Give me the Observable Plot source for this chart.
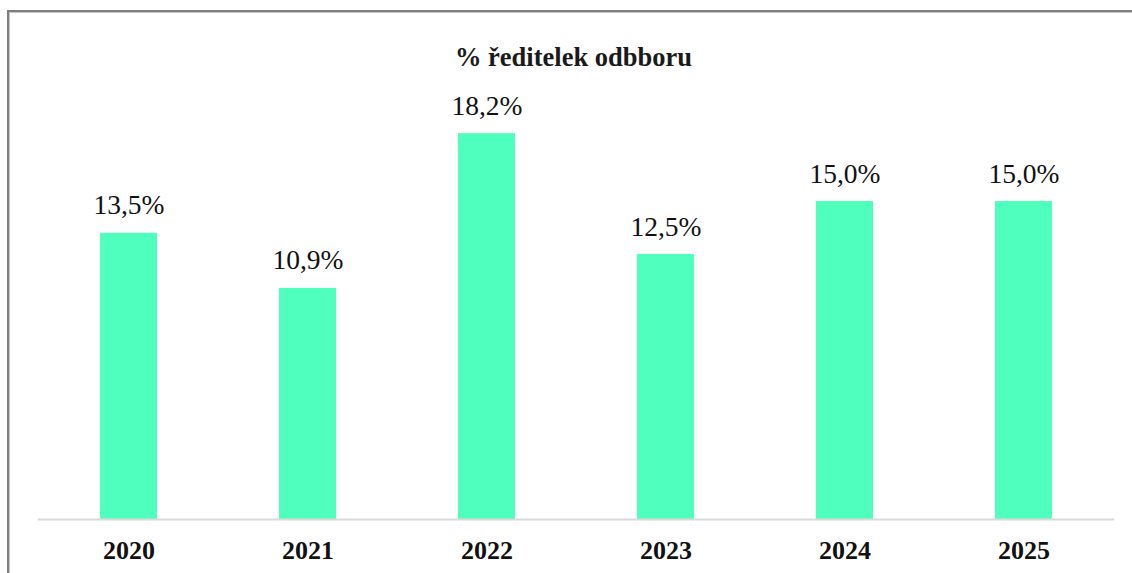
<!DOCTYPE html>
<html>
<head>
<meta charset="utf-8">
<script src="https://cdn.jsdelivr.net/npm/d3@7"></script>
<script src="https://cdn.jsdelivr.net/npm/@observablehq/plot@0.6"></script>
<style>
  html, body { margin: 0; padding: 0; background: #fff; overflow: hidden; }
  #wrap { position: relative; width: 1132px; height: 573px; overflow: hidden; }
  .hline { position: absolute; left: 7px; top: 10px; width: 1125px; height: 2px; background: #7f7f7f; }
  .hline2 { position: absolute; left: 9px; top: 12px; width: 1123px; height: 1px; background: #c4c4c4; }
  .vline { position: absolute; left: 7px; top: 10px; width: 2px; height: 563px; background: #7f7f7f; }
  .vline2 { position: absolute; left: 9px; top: 12px; width: 1px; height: 561px; background: #c4c4c4; }
  #title { position: absolute; left: 0; width: 1147px; top: 42px; text-align: center;
    font-family: "Liberation Serif", "Times New Roman", serif; font-weight: bold; font-size: 26.5px; color: #1a1a1a; }
  #chart { position: absolute; left: 0; top: 0; }
</style>
</head>
<body>
<div id="wrap">
  <div class="hline"></div><div class="hline2"></div>
  <div class="vline"></div><div class="vline2"></div>
  <div id="title">% ředitelek odbboru</div>
  <div id="chart"></div>
</div>
<script>
const years = ["2020", "2021", "2022", "2023", "2024", "2025"];
const values = [13.5, 10.9, 18.2, 12.5, 15.0, 15.0];
const labels = ["13,5%", "10,9%", "18,2%", "12,5%", "15,0%", "15,0%"];

const data = years.map((y, i) => ({year: y, value: values[i], label: labels[i]}));
const font = '"Liberation Serif", "Times New Roman", serif';

const chart = Plot.plot({
  width: 1132,
  height: 573,
  marginLeft: 38,
  marginRight: 18,
  marginTop: 95,
  marginBottom: 54,
  style: {background: "transparent", fontFamily: font, color: "#000"},
  x: {domain: years, paddingInner: 0.682, paddingOuter: 0.341, align: 0.5, label: null},
  y: {domain: [0, 20], axis: null},
  marks: [
    Plot.barY(data, {x: "year", y: "value", fill: "#4effbd"}),
    Plot.ruleY([0], {stroke: "#d9d9d9", strokeWidth: 2}),
    Plot.text(data, {x: "year", y: "value", text: "label", lineAnchor: "bottom", dy: -19,
      fontSize: 27.5, fill: "#111"}),
    Plot.axisX({tickSize: 0, tickPadding: 21, fontSize: 26, fontWeight: "bold", label: null, fill: "#111"})
  ]
});
document.getElementById("chart").appendChild(chart);
</script>
</body>
</html>
